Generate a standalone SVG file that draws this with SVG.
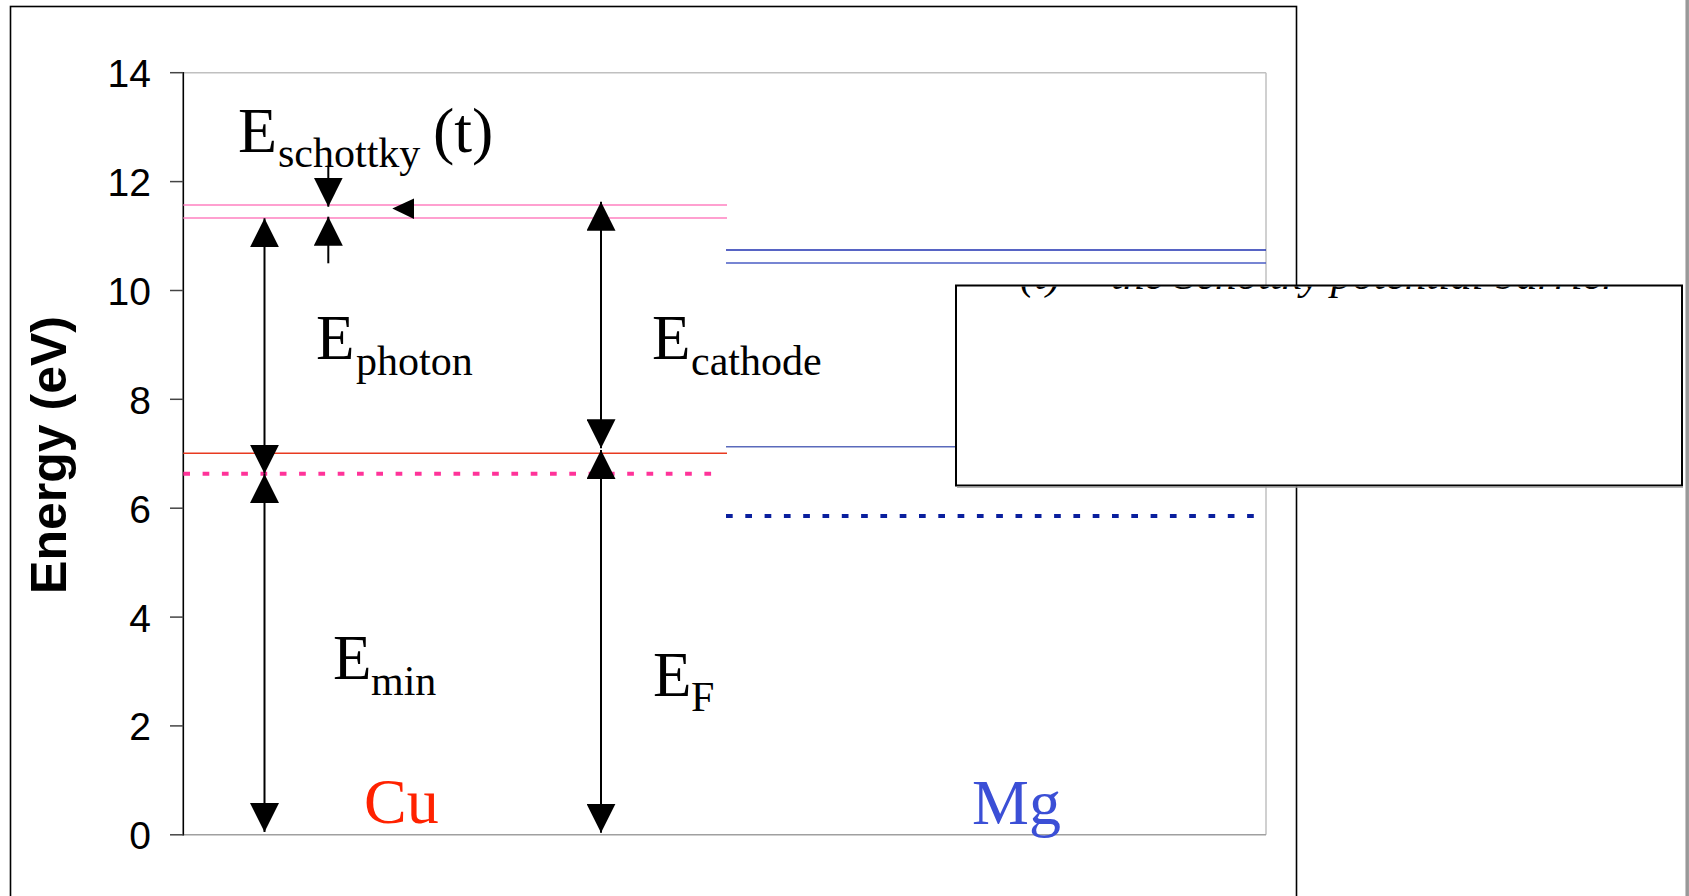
<svg xmlns="http://www.w3.org/2000/svg" width="1689" height="896" viewBox="0 0 1689 896">
<defs>
<style>
.tick{font-family:"Liberation Sans",Arial,sans-serif;font-size:39px;fill:#000;text-anchor:end}
.ser{font-family:"Liberation Serif","Times New Roman",serif}
.blk{fill:#000}
.big{font-size:63px}
.sub{font-size:42px}
.shaft{stroke:#000;stroke-width:2;fill:none}
.dbl{marker-start:url(#ah);marker-end:url(#ah)}
.one{marker-end:url(#ah)}
.cu{stroke:#ff80c0;stroke-width:1.5}
.mg{stroke-width:1.5}
.dot{stroke-width:4;stroke-dasharray:6.7 12.6;fill:none}
</style>
<marker id="ah" viewBox="0 0 29 29" refX="29" refY="14.5" markerWidth="29" markerHeight="29" markerUnits="userSpaceOnUse" orient="auto-start-reverse">
<path d="M0,0 L29,14.5 L0,29 Z" fill="#000"/>
</marker>
<clipPath id="legclip"><rect x="957" y="286.5" width="724" height="198"/></clipPath>
</defs>
<rect x="0" y="0" width="1689" height="896" fill="#fff"/>
<g id="frame">
<rect x="10.5" y="6.5" width="1286" height="900" fill="none" stroke="#000" stroke-width="1.6"/>
</g>
<g id="plot-area">
<line x1="183.3" y1="72.7" x2="1266" y2="72.7" stroke="#c0c0c0" stroke-width="1.5"/>
<line x1="1266" y1="72.7" x2="1266" y2="834.8" stroke="#c0c0c0" stroke-width="1.5"/>
<line x1="183.3" y1="834.8" x2="1266" y2="834.8" stroke="#a0a0a0" stroke-width="1.5"/>
<line x1="183.3" y1="72" x2="183.3" y2="835.5" stroke="#000" stroke-width="1.6"/>
<g stroke="#444" stroke-width="1.5">
<line x1="170" y1="72.7" x2="183.3" y2="72.7"/>
<line x1="170" y1="181.6" x2="183.3" y2="181.6"/>
<line x1="170" y1="290.5" x2="183.3" y2="290.5"/>
<line x1="170" y1="399.3" x2="183.3" y2="399.3"/>
<line x1="170" y1="508.2" x2="183.3" y2="508.2"/>
<line x1="170" y1="617.1" x2="183.3" y2="617.1"/>
<line x1="170" y1="725.9" x2="183.3" y2="725.9"/>
<line x1="170" y1="834.8" x2="183.3" y2="834.8"/>
</g>
<text class="tick" x="151" y="87">14</text>
<text class="tick" x="151" y="196">12</text>
<text class="tick" x="151" y="305">10</text>
<text class="tick" x="151" y="413.5">8</text>
<text class="tick" x="151" y="522.5">6</text>
<text class="tick" x="151" y="631.5">4</text>
<text class="tick" x="151" y="740">2</text>
<text class="tick" x="151" y="849">0</text>
<text x="66" y="455" transform="rotate(-90 66 455)" text-anchor="middle" font-family="Liberation Sans,Arial,sans-serif" font-weight="bold" font-size="50">Energy (eV)</text>
</g>
<g id="cu-levels">
<line class="cu" x1="183.3" y1="205" x2="727" y2="205"/>
<line class="cu" x1="183.3" y1="218" x2="727" y2="218"/>
<line x1="183.3" y1="453.3" x2="727" y2="453.3" stroke="#e83a20" stroke-width="1.5"/>
<line class="dot" x1="183.3" y1="473.7" x2="714" y2="473.7" stroke="#ff3399"/>
</g>
<g id="mg-levels">
<line class="mg" x1="726" y1="250" x2="1266" y2="250" stroke="#1f30b0"/>
<line class="mg" x1="726" y1="263" x2="1266" y2="263" stroke="#4a5cc4"/>
<line class="mg" x1="726" y1="446.7" x2="1266" y2="446.7" stroke="#5a6abb"/>
<line class="dot" x1="726" y1="516" x2="1256" y2="516" stroke="#0a1f9e"/>
</g>
<g id="connectors">
<line class="shaft dbl" x1="264.5" y1="218.3" x2="264.5" y2="473.7"/>
<line class="shaft dbl" x1="264.5" y1="474" x2="264.5" y2="832"/>
<line class="shaft dbl" x1="601" y1="201.7" x2="601" y2="448.3"/>
<line class="shaft dbl" x1="601" y1="450" x2="601" y2="832.7"/>
<line class="shaft one" x1="328.3" y1="166" x2="328.3" y2="206.7"/>
<line class="shaft one" x1="328.3" y1="263.3" x2="328.3" y2="216.7"/>
<path d="M392.3,208.5 L414,198.5 L414,219 Z" fill="#000"/>
</g>
<g id="label-schottky">
<text class="ser blk"><tspan x="238" y="152" font-size="64">E</tspan><tspan class="sub" x="278" y="167">schottky</tspan><tspan x="433" y="152" font-size="64">(t)</tspan></text>
</g>
<g id="label-photon">
<text class="ser blk"><tspan class="big" x="316" y="359">E</tspan><tspan class="sub" x="356" y="375">photon</tspan></text>
</g>
<g id="label-cathode">
<text class="ser blk"><tspan class="big" x="652" y="359">E</tspan><tspan class="sub" x="691" y="375">cathode</tspan></text>
</g>
<g id="label-min">
<text class="ser blk"><tspan class="big" x="333" y="679">E</tspan><tspan class="sub" x="371" y="695">min</tspan></text>
</g>
<g id="label-F">
<text class="ser blk"><tspan class="big" x="653" y="696">E</tspan><tspan class="sub" x="691" y="711">F</tspan></text>
</g>
<g id="label-cu">
<text class="ser" x="364" y="823" font-size="64" style="fill:#ff2200">Cu</text>
</g>
<g id="label-mg">
<text class="ser" x="972" y="824" font-size="64" style="fill:#3b4fd6">Mg</text>
</g>
<g id="legend">
<rect x="956" y="285.5" width="726" height="200" fill="#fff" stroke="#000" stroke-width="2"/>
<line x1="957" y1="487" x2="1683" y2="487" stroke="#999" stroke-width="1.5"/>
<g clip-path="url(#legclip)">
<text class="ser blk" x="1020" y="288.5" font-size="43" font-style="italic">(t) = the Schottky potential barrier</text>
</g>
</g>
<line x1="1687.2" y1="0" x2="1687.2" y2="896" stroke="#999" stroke-width="3.5"/>
</svg>
